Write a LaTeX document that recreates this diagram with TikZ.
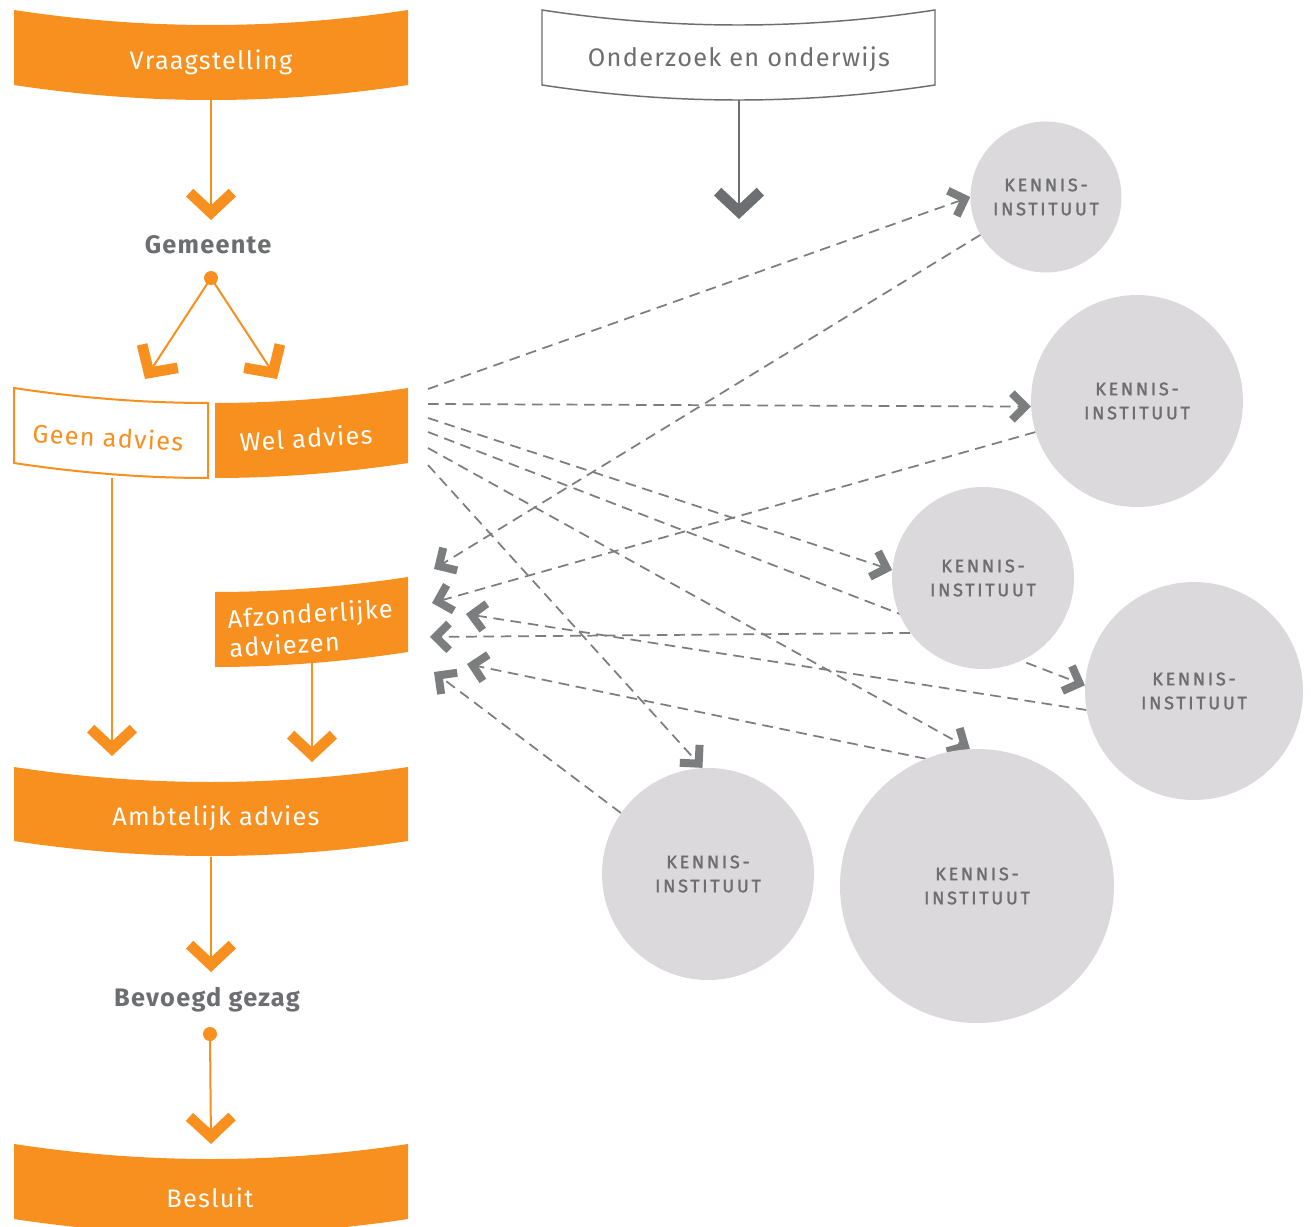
\documentclass[tikz,border=0pt]{standalone}
\usepackage{fontspec}
\setmainfont{Fira Sans}
\newfontfamily\lab[LetterSpace=5]{Fira Sans}
\newfontfamily\kfont[LetterSpace=15,FakeBold=1.5]{Fira Sans}
\usetikzlibrary{arrows.meta}
\definecolor{orng}{HTML}{F7901E}
\definecolor{dgray}{HTML}{6D6E71}
\definecolor{cgray}{HTML}{DCD9DD}
\pgfdeclarelayer{back}
\pgfdeclarelayer{bg}
\pgfsetlayers{back,bg,main}
\begin{document}
\begin{tikzpicture}[x=0.75pt,y=-0.75pt,
  bigchev/.style={-{Straight Barb[length=15pt,width=32pt,line width=8pt]}},
  smallchev/.style={-{Straight Barb[length=10pt,width=20pt,line width=6pt]}},
  oline/.style={draw=orng,line width=1.5pt},
  gline/.style={draw=dgray,line width=1.5pt},
  dline/.style={draw=dgray!90,line width=1.3pt,dash pattern=on 8pt off 5pt},
  wtext/.style={text=white,font=\lab\fontsize{19}{21}\selectfont,inner sep=0pt},
  otext/.style={text=orng,font=\lab\fontsize{19}{21}\selectfont,inner sep=0pt},
  gtext/.style={text=dgray,font=\lab\fontsize{19}{21}\selectfont,inner sep=0pt},
  btext/.style={text=dgray,font=\lab\bfseries\fontsize{19}{21}\selectfont,inner sep=0pt},
  kcirc/.style={circle,fill=cgray,text=dgray,align=center,inner sep=0pt,
    font=\kfont\fontsize{13.5}{18}\selectfont},
  odot/.style={circle,fill=orng,inner sep=0pt,minimum size=10.5pt}
]
\useasboundingbox (0,0) rectangle (1311,1227);
\begin{pgfonlayer}{back}
\fill[white] (0,0) rectangle (1311,1227);
\end{pgfonlayer}

% ---------- banners ----------
\fill[orng] (14,10) .. controls (145,30) and (277,30) .. (408,10) -- (408,85)
  .. controls (277,105) and (145,105) .. (14,85) -- cycle;
\fill[white,draw=dgray,line width=1.1pt] (542,10) .. controls (673,30) and (804,30) .. (935,10) -- (935,85)
  .. controls (804,105) and (673,105) .. (542,85) -- cycle;
\draw[orng,fill=white,line width=1.5pt] (14,388) .. controls (79.7,398) and (145,403) .. (208,403) -- (208,478)
  .. controls (145,478) and (79.7,473) .. (14,463) -- cycle;
\fill[orng] (215,403) .. controls (277,403) and (342.3,398) .. (408,388) -- (408,463)
  .. controls (342.3,473) and (277,478) .. (215,478) -- cycle;
\fill[orng] (215,592) .. controls (277,592) and (342.3,587) .. (408,577) -- (408,652)
  .. controls (342.3,662) and (277,667) .. (215,667) -- cycle;
\fill[orng] (14,767) .. controls (145,787) and (277,787) .. (408,767) -- (408,841)
  .. controls (277,861) and (145,861) .. (14,841) -- cycle;
\fill[orng] (14,1144) .. controls (145,1164) and (277,1164) .. (408,1144) -- (408,1219)
  .. controls (277,1239) and (145,1239) .. (14,1219) -- cycle;

% ---------- texts ----------
\node[wtext] (vraag) at (211,62) {Vraagstelling};
\node[gtext] (onder) at (739,59) {Onderzoek en onderwijs};
\node[btext] (gem) at (208,245) {Gemeente};
\node[otext,rotate=-3.5] (geen) at (108,437) {Geen advies};
\node[wtext,rotate=3.5] (wel) at (306,438) {Wel advies};
\node[wtext,rotate=3.5,align=left,font=\lab\fontsize{19}{22}\selectfont] (afz) at (311,628) {Afzonderlijke\\adviezen};
\node[wtext] (amb) at (216,818) {Ambtelijk advies};
\node[btext] (bev) at (207,1000) {Bevoegd gezag};
\node[wtext] (bes) at (210,1198) {Besluit};

\node[odot] (gdot) at (211,278) {};
\node[odot] (bdot) at (210,1034) {};

% ---------- circles ----------
\node[kcirc,minimum size={151*0.75pt}] (c1) at (1046,197) {KENNIS-\\INSTITUUT};
\node[kcirc,minimum size={212*0.75pt}] (c2) at (1137,401) {KENNIS-\\INSTITUUT};
\node[kcirc,minimum size={182*0.75pt}] (c3) at (983,578) {KENNIS-\\INSTITUUT};
\node[kcirc,minimum size={218*0.75pt}] (c4) at (1194,691) {KENNIS-\\INSTITUUT};
\node[kcirc,minimum size={212*0.75pt}] (c5) at (708,874) {KENNIS-\\INSTITUUT};
\node[kcirc,minimum size={274*0.75pt}] (c6) at (977,886) {KENNIS-\\INSTITUUT};

% ---------- connector coordinates ----------
\coordinate (vraagB) at (211,100);
\coordinate (gemT) at (211,220);
\coordinate (geenT) at (145,379);
\coordinate (welT) at (277,379);
\coordinate (geenB) at (112,478);
\coordinate (ambT1) at (112,756);
\coordinate (afzB) at (312,662);
\coordinate (ambT2) at (312,762);
\coordinate (ambB) at (211,857);
\coordinate (bevT) at (211,972);
\coordinate (besT) at (211,1144);
\coordinate (onderB) at (739,100);
\coordinate (onderT) at (739,219);

\coordinate (w1) at (428,389);
\coordinate (w2) at (428,404);
\coordinate (w3) at (428,418);
\coordinate (w4) at (428,432);
\coordinate (w5) at (428,448);
\coordinate (w6) at (428,465);
\coordinate (t1) at (434,569);
\coordinate (t2) at (432,603);
\coordinate (t3) at (466,614);
\coordinate (t4) at (430,637);
\coordinate (t5) at (467,664);
\coordinate (t6) at (434,672);

% ---------- connectors ----------
\draw[oline,bigchev] (vraagB) -- (gemT);
\draw[oline,bigchev] (gdot.center) -- (geenT);
\draw[oline,bigchev] (gdot.center) -- (welT);
\draw[oline,bigchev] (geenB) -- (ambT1);
\draw[oline,bigchev] (afzB) -- (ambT2);
\draw[oline,bigchev] (ambB) -- (bevT);
\draw[oline,bigchev] (bdot.center) -- (besT);
\draw[gline,bigchev] (onderB) -- (onderT);

\begin{pgfonlayer}{bg}
\draw[dline,smallchev] (w1) -- (c1.west);
\draw[dline,smallchev] (w2) -- (c2.183);
\draw[dline,smallchev] (w3) -- (c3.175);
\draw[dline,smallchev] (w4) -- (c4.177);
\draw[dline,smallchev] (w5) -- (c6.93);
\draw[dline,smallchev] (w6) -- (c5.93);
\draw[dline,smallchev] (c1.210) -- (t1);
\draw[dline,smallchev] (c2.197) -- (t2);
\draw[dline,smallchev] (c4.190) -- (t3);
\draw[dline,smallchev] (c3.217) -- (t4);
\draw[dline,smallchev] (c6.112) -- (t5);
\draw[dline,smallchev] (c5.145) -- (t6);
\end{pgfonlayer}
\end{tikzpicture}
\end{document}
